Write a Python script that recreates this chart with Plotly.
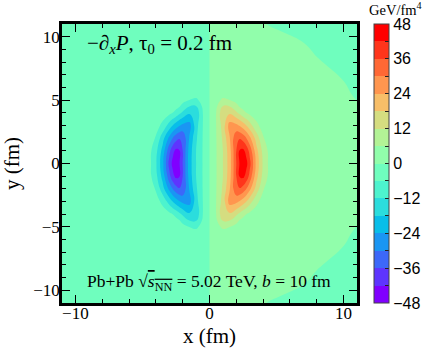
import plotly.graph_objects as go

# contour levels (GeV/fm^4) and the 16 filled-band colours
levels_start, levels_end, levels_step = -48, 48, 6
band_colors = ['#8000ff', '#5e35fe', '#3c68f9', '#1a96f3', '#08bee9', '#2bdddd',
               '#4df3ce', '#6ffebe', '#91feab', '#b3f396', '#d5dd80', '#f7be68',
               '#ff964f', '#ff6835', '#ff351b', '#ff0000']
cbar_tickvals = list(range(-48, 49, 6))
cbar_ticktext = ['\u221248', '', '\u221236', '', '\u221224', '', '\u221212', '', '0',
                 '', '12', '', '24', '', '36', '', '48']

# grid nodes (fm): distance from x=0 on each side, and |y| rows (mirrored)
dx_nodes = [0.05, 0.5, 1.0, 1.5, 2.0, 2.25, 2.5, 2.75, 3.0, 3.5, 4.0, 4.5, 5.5, 8.0, 11.0]
y_rows = [0, 1, 2, 3, 4, 4.5, 5, 5.5, 6.5, 8, 9.5, 11]

# lobe magnitude |-dP/dx| above the background
lobe = [
    [1.5, 2.7, 9.0, 18.0, 33.0, 39.5, 43.0, 40.5, 35.0, 19.0, 8.0, 1.0, 0, 0, 0],
    [1.5, 2.7, 9.0, 18.5, 33.0, 39.5, 40.5, 37.0, 31.0, 17.0, 7.0, 1.0, 0, 0, 0],
    [1.5, 2.8, 10.0, 20.5, 32.0, 32.5, 30.5, 27.0, 22.5, 12.5, 3.5, 0.3, 0, 0, 0],
    [1.5, 3.0, 11.5, 23.5, 22.5, 20.5, 18.0, 15.0, 11.5, 4.5, 0.5, 0, 0, 0, 0],
    [1.2, 3.0, 13.5, 14.0, 10.0, 7.5, 5.0, 3.0, 1.5, 0, 0, 0, 0, 0, 0],
    [0.8, 2.0, 9.5, 9.0, 5.0, 2.5, 1.0, 0.3, 0, 0, 0, 0, 0, 0, 0],
    [0.3, 1.0, 4.0, 3.0, 1.0, 0.3, 0, 0, 0, 0, 0, 0, 0, 0, 0],
    [0, 0.3, 0.8, 0.5, 0.2, 0, 0, 0, 0, 0, 0, 0, 0, 0, 0],
    [0] * 15,
    [0] * 15,
    [0] * 15,
    [0] * 15,
]

# background level on the x>0 side (drops below zero in the far corner)
bg_right = [
    [3] * 13 + [3.0, 1.5],
    [3] * 13 + [3.0, 1.5],
    [3] * 13 + [3.0, 1.5],
    [3] * 13 + [3.0, 1.2],
    [3] * 13 + [2.8, 0.8],
    [3] * 13 + [2.7, 0.5],
    [3] * 13 + [2.6, -0.1],
    [3] * 13 + [2.4, -0.4],
    [3] * 13 + [2.0, -1.0],
    [3] * 12 + [2.8, 0.3, -1.8],
    [3] * 10 + [2.6, 2.3, 1.3, -0.8, -2.6],
    [3, 3, 3, 3, 3, 2.8, 2.5, 2.2, 1.8, 1.0, 0.3, -0.3, -1.0, -2.5, -3.5],
]
# background level on the x<0 side
bg_left = -3.0

x_full = [-d for d in reversed(dx_nodes)] + dx_nodes
y_full = [-y for y in reversed(y_rows[1:])] + y_rows

rows = []
for i in range(len(y_rows)):
    left = [bg_left - v for v in reversed(lobe[i])]
    right = [b + v for b, v in zip(bg_right[i], lobe[i])]
    rows.append(left + right)
z_full = [rows[i] for i in reversed(range(1, len(rows)))] + rows

n = len(band_colors)
colorscale = []
for i, c in enumerate(band_colors):
    colorscale.append([i / n, c])
    colorscale.append([(i + 1) / n, c])

serif = "Liberation Serif"

fig = go.Figure(go.Contour(
    x=x_full, y=y_full, z=z_full,
    colorscale=colorscale, zmin=levels_start, zmax=levels_end,
    contours=dict(start=levels_start, end=levels_end, size=levels_step, coloring="fill"),
    line=dict(width=0, smoothing=1.3),
    colorbar=dict(
        x=1.0576, xanchor="left", xpad=0, y=0.5, yanchor="middle", ypad=0,
        len=1.0, thickness=15, outlinewidth=1, outlinecolor="#444",
        tickvals=cbar_tickvals, ticktext=cbar_ticktext,
        ticks="inside", ticklen=4, tickwidth=1, tickcolor="#222",
        tickfont=dict(family="Liberation Sans", size=16, color="black"),
    ),
))

axis_common = dict(
    range=[-11, 11], showgrid=False, zeroline=False,
    showline=True, linewidth=2.5, linecolor="black", mirror="allticks",
    ticks="inside", ticklen=8, tickwidth=1.2, tickcolor="black",
    tickfont=dict(family=serif, size=17, color="black"),
)

fig.update_layout(
    width=436, height=354,
    margin=dict(l=62, r=79, t=24, b=51, autoexpand=False),
    paper_bgcolor="white", plot_bgcolor="white",
    xaxis=dict(axis_common, dtick=10, ticklabelstandoff=-7,
               minor=dict(dtick=2, ticks="inside", ticklen=4, tickcolor="black"),
               title=dict(text="x (fm)", font=dict(family=serif, size=21, color="black"), standoff=7)),
    yaxis=dict(axis_common, dtick=5, ticklabelstandoff=-4,
               minor=dict(dtick=1, ticks="inside", ticklen=4, tickcolor="black"),
               title=dict(text="y (fm)", font=dict(family=serif, size=21, color="black"), standoff=10)),
    annotations=[
        dict(text="\u2212<i>\u2202<sub>x</sub>P</i>, \u03c4<sub>0</sub> = 0.2 fm",
             x=0.078, y=0.928, xref="paper", yref="paper", xanchor="left", yanchor="middle",
             showarrow=False, font=dict(family=serif, size=21, color="black")),
        dict(text="Pb+Pb \u221a<span style='text-decoration:overline'><i>s</i><sub>NN</sub></span> = 5.02 TeV, <i>b</i> = 10 fm",
             x=0.078, y=0.072, xref="paper", yref="paper", xanchor="left", yanchor="middle",
             showarrow=False, font=dict(family=serif, size=17.5, color="black")),
        dict(text="GeV/fm<sup>4</sup>", x=1.132, y=1.016, xref="paper", yref="paper",
             xanchor="center", yanchor="bottom", showarrow=False,
             font=dict(family=serif, size=14.5, color="black")),
    ],
)

fig.write_html("out.html", config={"displayModeBar": False},
               post_script="document.body.style.margin='0';")
